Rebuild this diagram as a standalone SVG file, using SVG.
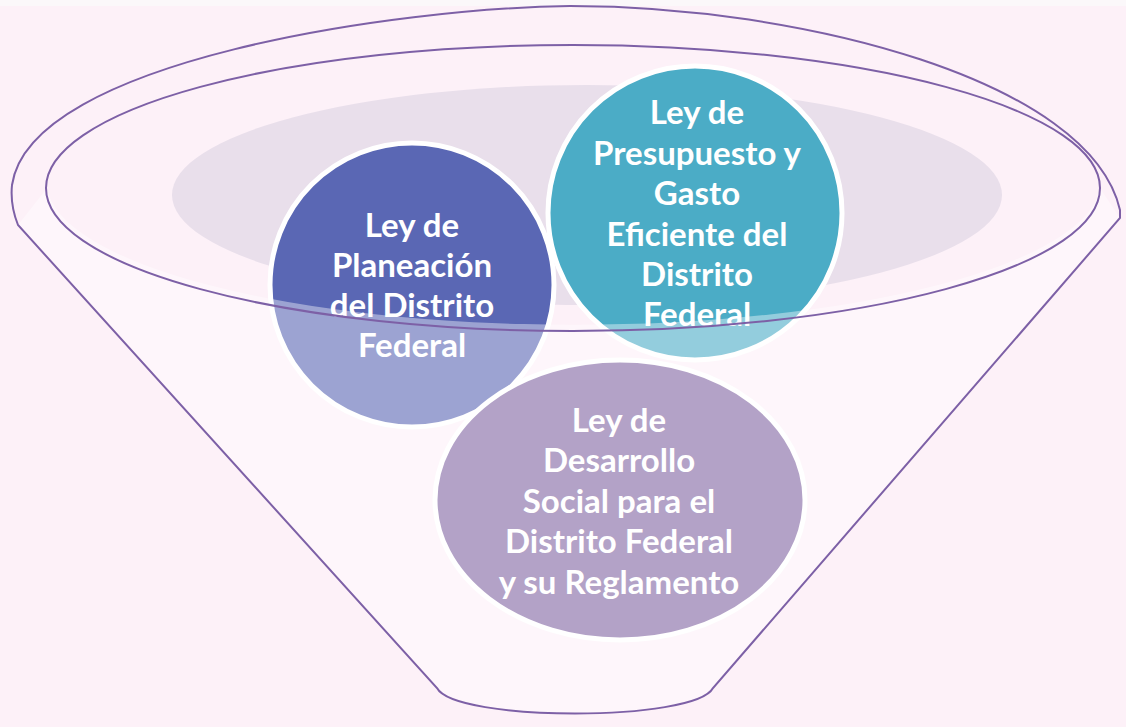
<svg xmlns="http://www.w3.org/2000/svg" width="1126" height="727" viewBox="0 0 1126 727">
<style>
.ln{fill:none;stroke:#7d60a6;stroke-width:2}
.c{stroke:#ffffff;stroke-width:5}
.t{font-family:Lato,"Liberation Sans",sans-serif;font-weight:bold;font-size:33px;fill:#ffffff;text-anchor:middle}
</style>
<rect width="1126" height="727" fill="#fdf1f8"/>
<rect width="1126" height="6" fill="#fbf8fa"/>
<ellipse cx="587" cy="195" rx="415" ry="110" fill="#e9dfeb"/>
<g id="n2"><circle class="c" cx="695" cy="213" r="147" fill="#4bacc6"/>
<text class="t" x="697" y="124">Ley de</text>
<text class="t" x="697" y="165">Presupuesto y</text>
<text class="t" x="697" y="205">Gasto</text>
<text class="t" x="697" y="246">Eficiente del</text>
<text class="t" x="697" y="286">Distrito</text>
<text class="t" x="697" y="326">Federal</text></g>
<g id="n1"><circle class="c" cx="412" cy="285" r="142" fill="#5a67b4"/>
<text class="t" x="412" y="237">Ley de</text>
<text class="t" x="412" y="277">Planeación</text>
<text class="t" x="412" y="317">del Distrito</text>
<text class="t" x="412" y="357">Federal</text></g>
<g id="n3"><ellipse class="c" cx="620" cy="500" rx="185" ry="140" fill="#8064a2"/>
<text class="t" x="619" y="432">Ley de</text>
<text class="t" x="619" y="472">Desarrollo</text>
<text class="t" x="619" y="513">Social para el</text>
<text class="t" x="619" y="553">Distrito Federal</text>
<text class="t" x="619" y="594">y su Reglamento</text></g>
<path d="M47,188 A527,143 0 0 0 1100,188 L1120,218 L713,688 C695,722 455,722 437,688 L18,225 Z" fill="#ffffff" fill-opacity="0.4"/>
<g id="connectors">
<path class="ln" d="M18,225 Q10,205 12,185 C30,60 400,8 570,6 C800,6 1090,80 1120,210 L1120,218 L713,688 C695,722 455,722 437,688 Z"/>
<ellipse class="ln" cx="573" cy="188" rx="527" ry="143"/>
</g>
</svg>
